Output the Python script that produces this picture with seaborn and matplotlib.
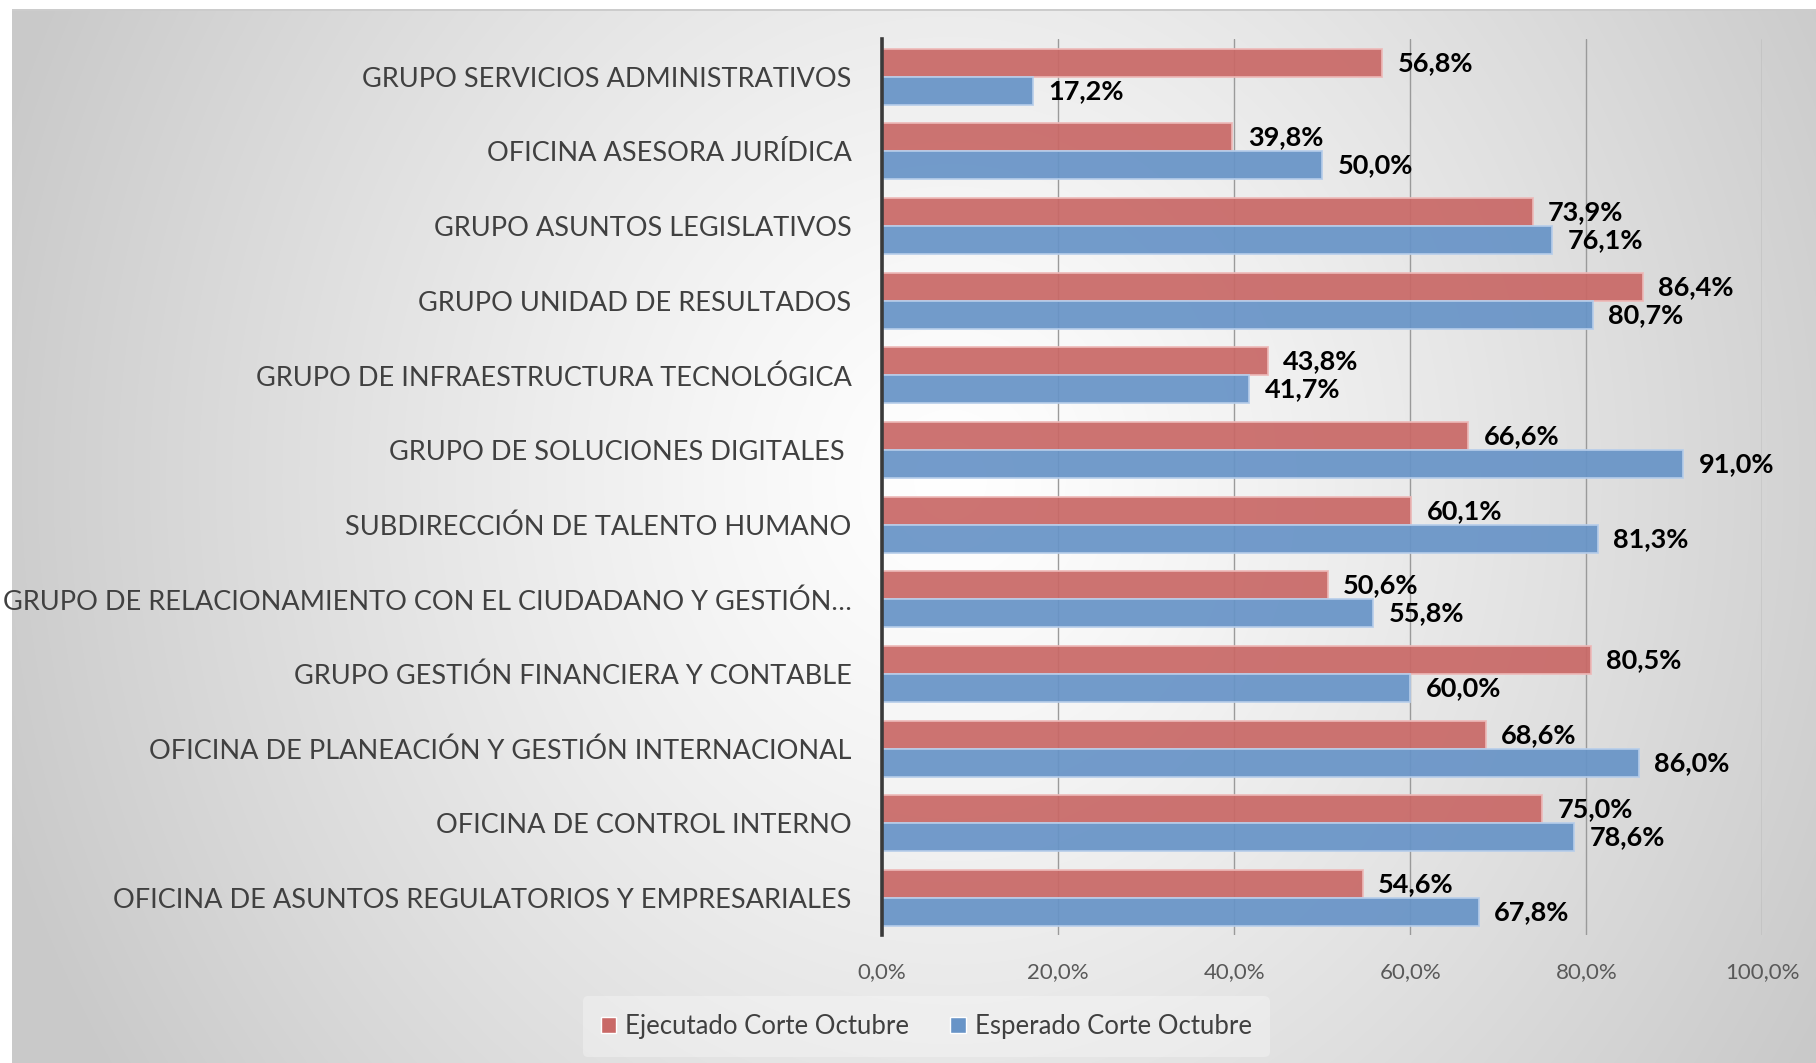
import numpy as np
import pandas as pd
import seaborn as sns
import matplotlib.pyplot as plt

plt.switch_backend("Agg")

# Chart data, top to bottom as shown in the reference.
categories = [
    "GRUPO SERVICIOS ADMINISTRATIVOS",
    "OFICINA ASESORA JURÍDICA",
    "GRUPO ASUNTOS LEGISLATIVOS",
    "GRUPO UNIDAD DE RESULTADOS",
    "GRUPO DE INFRAESTRUCTURA TECNOLÓGICA",
    "GRUPO DE SOLUCIONES DIGITALES ",
    "SUBDIRECCIÓN DE TALENTO HUMANO",
    "GRUPO DE RELACIONAMIENTO CON EL CIUDADANO Y GESTIÓN…",
    "GRUPO GESTIÓN FINANCIERA Y CONTABLE",
    "OFICINA DE PLANEACIÓN Y GESTIÓN INTERNACIONAL",
    "OFICINA DE CONTROL INTERNO",
    "OFICINA DE ASUNTOS REGULATORIOS Y EMPRESARIALES",
]
ejecutado = [56.8, 39.8, 73.9, 86.4, 43.8, 66.6, 60.1, 50.6, 80.5, 68.6, 75.0, 54.6]
esperado = [17.2, 50.0, 76.1, 80.7, 41.7, 91.0, 81.3, 55.8, 60.0, 86.0, 78.6, 67.8]
series_names = ["Ejecutado Corte Octubre", "Esperado Corte Octubre"]
x_ticks = [0, 20, 40, 60, 80, 100]

FONT = ["Lato", "DejaVu Sans"]
RED = "#C96967"
BLUE = "#6894C7"

sns.set_theme(style="white")
plt.rcParams["font.family"] = FONT

df = pd.DataFrame({
    "Area": categories * 2,
    "Serie": [series_names[0]] * len(categories) + [series_names[1]] * len(categories),
    "Valor": ejecutado + esperado,
})

fig = plt.figure(figsize=(18.16, 10.63), dpi=100)

# Background: radial grey gradient with thin white strips top and left.
bg = fig.add_axes([0, 0, 1, 1], zorder=-10)
h, w = 1063, 1816
yy, xx = np.mgrid[0:h, 0:w]
r = np.sqrt(((xx - 950) / 1000.0) ** 2 + ((yy - 480) / 1100.0) ** 2)
shade = 1.0 - 0.21 * np.clip(r, 0, 1) ** 1.2
img = np.dstack([shade, shade, shade])
img[:9, :, :] = 1.0
img[9:11, 12:, :] = 0.80
img[:, :12, :] = 1.0
bg.imshow(img, aspect="auto", extent=[0, 1, 0, 1], interpolation="bilinear")
bg.set_axis_off()

ax = fig.add_axes([0.4857, 0.120, 0.4848, 0.843])
ax.patch.set_alpha(0)

sns.barplot(
    data=df, y="Area", x="Valor", hue="Serie", orient="h",
    palette=[RED, BLUE], saturation=1, width=0.75, ax=ax, legend=True,
)

edges = ["#EDB9B8", "#B6CDEA"]
for container, vals, ec in zip(ax.containers, [ejecutado, esperado], edges):
    for bar in container:
        bar.set_edgecolor(ec)
        bar.set_linewidth(1.3)
        bar.set_alpha(0.93)
        bar.set_zorder(3)
    labels = [f"{v:.1f}%".replace(".", ",") for v in vals]
    ax.bar_label(container, labels=labels, padding=11, fontsize=19.5,
                 fontweight="bold", color="black", family=FONT)

ax.set_xlim(0, 100)
ax.set_ylim(len(categories) - 0.5, -0.5)
ax.set_xticks(x_ticks)
ax.set_xticklabels([f"{t:.1f}%".replace(".", ",") for t in x_ticks],
                   fontsize=16, color="#595959")
ax.tick_params(axis="x", length=0, pad=19)
ax.tick_params(axis="y", length=0, pad=22, labelsize=19.5, labelcolor="#404040")
ax.set_xlabel("")
ax.set_ylabel("")
ax.grid(axis="x", color="#9A9A9A", linewidth=1.0, zorder=0)
ax.set_axisbelow(True)
for side in ["top", "right", "bottom"]:
    ax.spines[side].set_visible(False)
ax.spines["left"].set_color("#3A3A3A")
ax.spines["left"].set_linewidth(2.6)
ax.spines["left"].set_zorder(5)

handles, labels = ax.get_legend_handles_labels()
ax.get_legend().remove()
leg = fig.legend(
    handles, labels, loc="center", bbox_to_anchor=(0.51, 0.034), ncol=2,
    fontsize=18.5, frameon=True, handlelength=0.6, handleheight=0.6,
    handletextpad=0.35, columnspacing=1.6, borderpad=0.7,
)
leg.get_frame().set_facecolor("white")
leg.get_frame().set_alpha(0.3)
leg.get_frame().set_edgecolor("none")
for t in leg.get_texts():
    t.set_color("#404040")

fig.savefig("out.png", dpi=100)
